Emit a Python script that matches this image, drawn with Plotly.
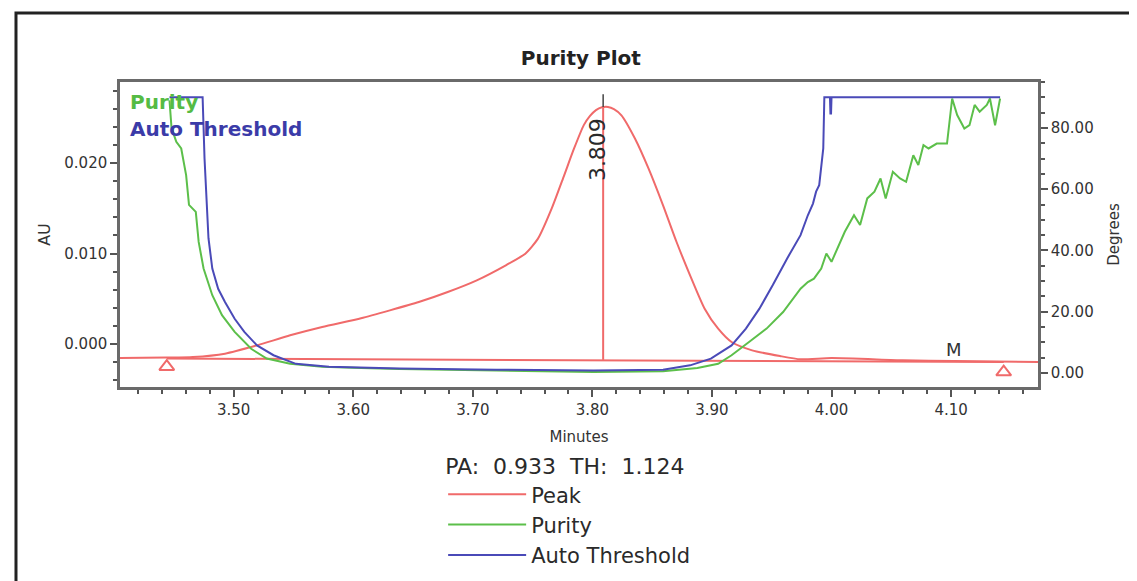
import plotly.graph_objects as go

# ---------------- data ----------------
peak_min = [3.4049, 3.4439, 3.4659, 3.4927, 3.5195, 3.5472, 3.5740, 3.6065, 3.6306, 3.6548,
            3.6790, 3.7033, 3.7276, 3.7439, 3.7545, 3.7659, 3.7764, 3.7846, 3.7927, 3.7980,
            3.8030, 3.8080, 3.8130, 3.8180, 3.8243, 3.8357, 3.8470, 3.8591, 3.8704, 3.8817,
            3.8939, 3.9052, 3.9164, 3.9336, 3.9569, 3.9741, 4.0000, 4.0598, 4.1026, 4.1727]
peak_au = [-0.00155, -0.00150, -0.00144, -0.00107, -0.00015, 0.00096, 0.00188, 0.00285, 0.00372, 0.00464,
           0.00575, 0.00704, 0.00870, 0.00998, 0.01164, 0.01495, 0.01864, 0.02158, 0.02416, 0.02520,
           0.02585, 0.02615, 0.02619, 0.02595, 0.02527, 0.02268, 0.01937, 0.01532, 0.01127, 0.00759,
           0.00390, 0.00169, 0.00022, -0.00070, -0.00133, -0.00169, -0.00155, -0.00180, -0.00188, -0.00200]

purity_min = [3.4463, 3.4480, 3.4520, 3.4561, 3.4602, 3.4626, 3.4683, 3.4707, 3.4748, 3.4821,
              3.4902, 3.5008, 3.5146, 3.5276, 3.5472, 3.5740, 3.6065, 3.6387, 3.7195, 3.8009,
              3.8591, 3.8878, 3.9052, 3.9164, 3.9310, 3.9457, 3.9595, 3.9741, 3.9802, 3.9853,
              3.9914, 3.9957, 4.0000, 4.0060, 4.0111, 4.0188, 4.0239, 4.0299, 4.0359, 4.0410,
              4.0453, 4.0513, 4.0573, 4.0624, 4.0684, 4.0726, 4.0769, 4.0812, 4.0880, 4.0966,
              4.1009, 4.1051, 4.1111, 4.1154, 4.1197, 4.1239, 4.1299, 4.1325, 4.1368, 4.1410]
purity_deg = [89.0, 80.0, 75.5, 73.3, 64.6, 54.9, 52.6, 42.8, 34.1, 25.4,
              18.9, 13.4, 7.9, 4.7, 3.0, 2.0, 1.6, 1.3, 0.8, 0.3,
              0.6, 1.6, 3.0, 5.8, 10.1, 14.5, 19.9, 27.5, 29.7, 30.8,
              34.1, 39.0, 36.3, 41.7, 46.1, 51.5, 48.3, 57.0, 59.2, 63.5,
              57.0, 65.7, 63.5, 62.4, 71.1, 67.9, 74.4, 73.3, 74.9, 74.9,
              89.6, 84.2, 79.8, 80.9, 87.5, 85.3, 87.5, 89.6, 80.9, 89.6]

thresh_min = [3.4463, 3.4740, 3.4756, 3.4772, 3.4789, 3.4821, 3.4870, 3.4927, 3.5008, 3.5089,
              3.5195, 3.5333, 3.5520, 3.5797, 3.6065, 3.6387, 3.7195, 3.8009, 3.8591, 3.8817,
              3.8991, 3.9164, 3.9284, 3.9397, 3.9509, 3.9629, 3.9741, 3.9802, 3.9845, 3.9871,
              3.9897, 3.9914, 3.9931, 3.9940, 3.9987, 3.9991, 3.9996, 4.0000, 4.1410]
thresh_deg = [90.0, 90.0, 70.0, 55.0, 44.0, 34.1, 27.5, 23.2, 17.7, 13.4,
              9.0, 5.8, 3.0, 2.0, 1.7, 1.5, 1.1, 0.8, 1.1, 2.5,
              4.7, 9.0, 14.5, 21.0, 28.7, 37.4, 45.0, 51.5, 55.3, 59.2,
              61.3, 66.8, 73.3, 90.0, 90.0, 84.7, 84.7, 90.0, 90.0]

peak_rt = 3.809
peak_top_au = 0.02619
peak_label_top_au = 0.0276
baseline_min = [3.444, 4.144]
baseline_au = [-0.0016, -0.0020]
marker_au = [-0.0025, -0.0031]
m_label_min = 4.1026
m_label_au = -0.00066

pa_value = "0.933"
th_value = "1.124"

x_range = [3.4049, 4.1727]
au_range = [-0.00475, 0.02895]
deg_range = [-4.57, 95.0]

# ---------------- style ----------------
RED = "#F06A6A"
GREEN = "#5CBF4A"
BLUE = "#4A4AB8"
FONT = "DejaVu Sans"
TXT = "#2a2a2a"

fig = go.Figure()

fig.add_trace(go.Scatter(x=purity_min, y=purity_deg, yaxis="y2", mode="lines",
                         line=dict(color=GREEN, width=2), name="Purity", legendrank=2))
fig.add_trace(go.Scatter(x=thresh_min, y=thresh_deg, yaxis="y2", mode="lines",
                         line=dict(color=BLUE, width=2), name="Auto Threshold", legendrank=3))
fig.add_trace(go.Scatter(x=peak_min, y=peak_au, mode="lines",
                         line=dict(color=RED, width=2, shape="spline", smoothing=0.6),
                         name="Peak", legendrank=1))
fig.add_trace(go.Scatter(x=baseline_min, y=baseline_au, mode="lines",
                         line=dict(color=RED, width=2), showlegend=False))
fig.add_trace(go.Scatter(x=baseline_min, y=marker_au, mode="markers",
                         marker=dict(symbol="triangle-up-open", size=13, color=RED,
                                     line=dict(color=RED, width=2)),
                         showlegend=False))
fig.add_trace(go.Scatter(x=[peak_rt, peak_rt], y=[baseline_au[0] - 0.00015, peak_top_au], mode="lines",
                         line=dict(color=RED, width=2), showlegend=False))
fig.add_trace(go.Scatter(x=[peak_rt, peak_rt], y=[peak_top_au, peak_label_top_au], mode="lines",
                         line=dict(color="#444444", width=1.5), showlegend=False))

annotations = [
    dict(text=f"{peak_rt:.3f}", x=peak_rt, y=0.02144, xref="x", yref="y", textangle=-90,
         showarrow=False, xshift=-5, font=dict(family=FONT, size=22, color=TXT)),
    dict(text="M", x=m_label_min, y=m_label_au, xref="x", yref="y", showarrow=False,
         font=dict(family=FONT, size=18, color="#333333"), yanchor="middle"),
    dict(text="<b>Purity</b>", x=0.0087, y=0.935, xref="paper", yref="paper", showarrow=False,
         xanchor="left", yanchor="middle", font=dict(family=FONT, size=20, color="#55BB44")),
    dict(text="<b>Auto Threshold</b>", x=0.0087, y=0.846, xref="paper", yref="paper", showarrow=False,
         xanchor="left", yanchor="middle", font=dict(family=FONT, size=20, color="#3B3BA8")),
]

tickfont = dict(family=FONT, size=15, color="#333333")

# the page body has an 8px margin, so the figure is 8px smaller each way
fig.update_layout(
    width=1129, height=573,
    margin=dict(l=112, r=99, t=74, b=194, autoexpand=False),
    paper_bgcolor="white", plot_bgcolor="white",
    title=dict(text="<b>Purity Plot</b>", x=0.502, xref="paper", y=1 - 50 / 573, yref="container",
               xanchor="center", yanchor="middle", font=dict(family=FONT, size=20, color="#222222")),
    xaxis=dict(range=x_range, tick0=3.5, dtick=0.1, tickformat=".2f", ticks="outside", ticklen=7,
               tickwidth=1.5, tickcolor="#555555", showline=True, mirror=True, linecolor="#6a6a6a",
               linewidth=2.5, showgrid=False, zeroline=False, tickfont=tickfont,
               minor=dict(dtick=0.02, tick0=3.5, ticks="outside", ticklen=4, tickcolor="#555555",
                          tickwidth=1.5, showgrid=False),
               title=dict(text="Minutes", standoff=14, font=dict(family=FONT, size=15, color="#333333"))),
    yaxis=dict(range=au_range, tick0=0, dtick=0.01, tickformat=".3f", ticks="outside", ticklen=7,
               tickwidth=1.5, tickcolor="#555555", showline=True, linecolor="#6a6a6a", linewidth=2.5,
               showgrid=False, zeroline=False, tickfont=tickfont,
               minor=dict(dtick=0.002, tick0=0, ticks="outside", ticklen=4, tickcolor="#555555",
                          tickwidth=1.5, showgrid=False),
               title=dict(text="AU", standoff=10, font=dict(family=FONT, size=16, color="#333333"))),
    yaxis2=dict(range=deg_range, overlaying="y", side="right", tick0=0, dtick=20, tickformat=".2f",
                ticks="outside", ticklen=7, tickwidth=1.5, tickcolor="#555555", showline=True,
                linecolor="#6a6a6a", linewidth=2.5, showgrid=False, zeroline=False, tickfont=tickfont,
                minor=dict(dtick=5, tick0=0, ticks="outside", ticklen=4, tickcolor="#555555",
                           tickwidth=1.5, showgrid=False),
                title=dict(text="Degrees", standoff=16, font=dict(family=FONT, size=15, color="#333333"))),
    showlegend=True,
    legend=dict(x=0.352, y=-0.192, xanchor="left", yanchor="top", orientation="v",
                bgcolor="rgba(0,0,0,0)", itemwidth=78, traceorder="normal", tracegroupgap=0,
                font=dict(family=FONT, size=21, color=TXT),
                title=dict(text=f"PA:\u00a0\u00a0{pa_value}\u00a0\u00a0TH:\u00a0\u00a0{th_value}",
                           side="top", font=dict(family=FONT, size=22, color=TXT))),
    annotations=annotations,
    shapes=[dict(type="rect", xref="paper", yref="paper", x0=-0.1133, x1=1.12, y0=-0.70, y1=1.2262,
                 line=dict(color="#222222", width=3), fillcolor="rgba(0,0,0,0)", layer="below")],
)

fig.write_html("out.html")
